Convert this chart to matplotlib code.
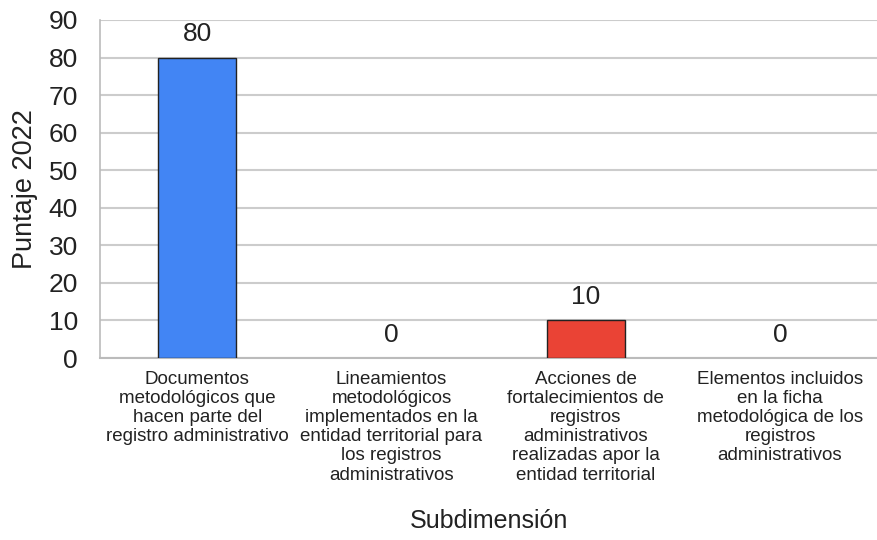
import numpy as np
import matplotlib.pyplot as plt

plt.rcParams['font.family'] = ['Liberation Sans', 'DejaVu Sans']

# data
categorias = [
    "Documentos\nmetodológicos que\nhacen parte del\nregistro administrativo",
    "Lineamientos\nmetodológicos\nimplementados en la\nentidad territorial para\nlos registros\nadministrativos",
    "Acciones de\nfortalecimientos de\nregistros\nadministrativos\nrealizadas apor la\nentidad territorial",
    "Elementos incluidos\nen la ficha\nmetodológica de los\nregistros\nadministrativos",
]
puntaje = [80, 0, 10, 0]
colores = ["#4285F4", "#4285F4", "#EA4335", "#4285F4"]

fig = plt.figure(figsize=(8.78, 5.4), dpi=100)
ax = fig.add_axes([0.114, 0.337, 0.885, 0.626])

x = np.arange(len(categorias))
bars = ax.bar(x, puntaje, width=0.4, color=colores,
              edgecolor="#222222", linewidth=1.0, zorder=3)
for b, v in zip(bars, puntaje):
    if v == 0:
        b.set_visible(False)

for xi, v in zip(x, puntaje):
    ax.annotate(str(v), (xi, v), xytext=(0, 8), textcoords="offset points",
                ha="center", va="bottom", fontsize=19, color="#222222")

ax.set_xlim(-0.5, len(categorias) - 0.5)
ax.set_ylim(0, 90)
ax.set_yticks(np.arange(0, 91, 10))
ax.yaxis.grid(True, color="#cccccc", linewidth=1.5, zorder=0)
ax.set_axisbelow(True)

for s in ["top", "right"]:
    ax.spines[s].set_visible(False)
ax.spines["left"].set_color("#bbbbbb")
ax.spines["left"].set_linewidth(1.2)
ax.spines["bottom"].set_color("#bbbbbb")
ax.spines["bottom"].set_linewidth(1.5)

ax.set_xticks(x)
ax.set_xticklabels(categorias, fontsize=13.5, linespacing=1.17, color="#222222")
ax.tick_params(axis="x", length=0, pad=9)
ax.tick_params(axis="y", length=0, pad=16, labelsize=19, labelcolor="#222222")

ax.set_ylabel("Puntaje 2022", fontsize=19.5, color="#222222")
ax.yaxis.set_label_coords(-0.08, 0.5)
ax.set_xlabel("Subdimensión", fontsize=18, color="#222222", labelpad=18)

fig.savefig("out.png", dpi=100)
